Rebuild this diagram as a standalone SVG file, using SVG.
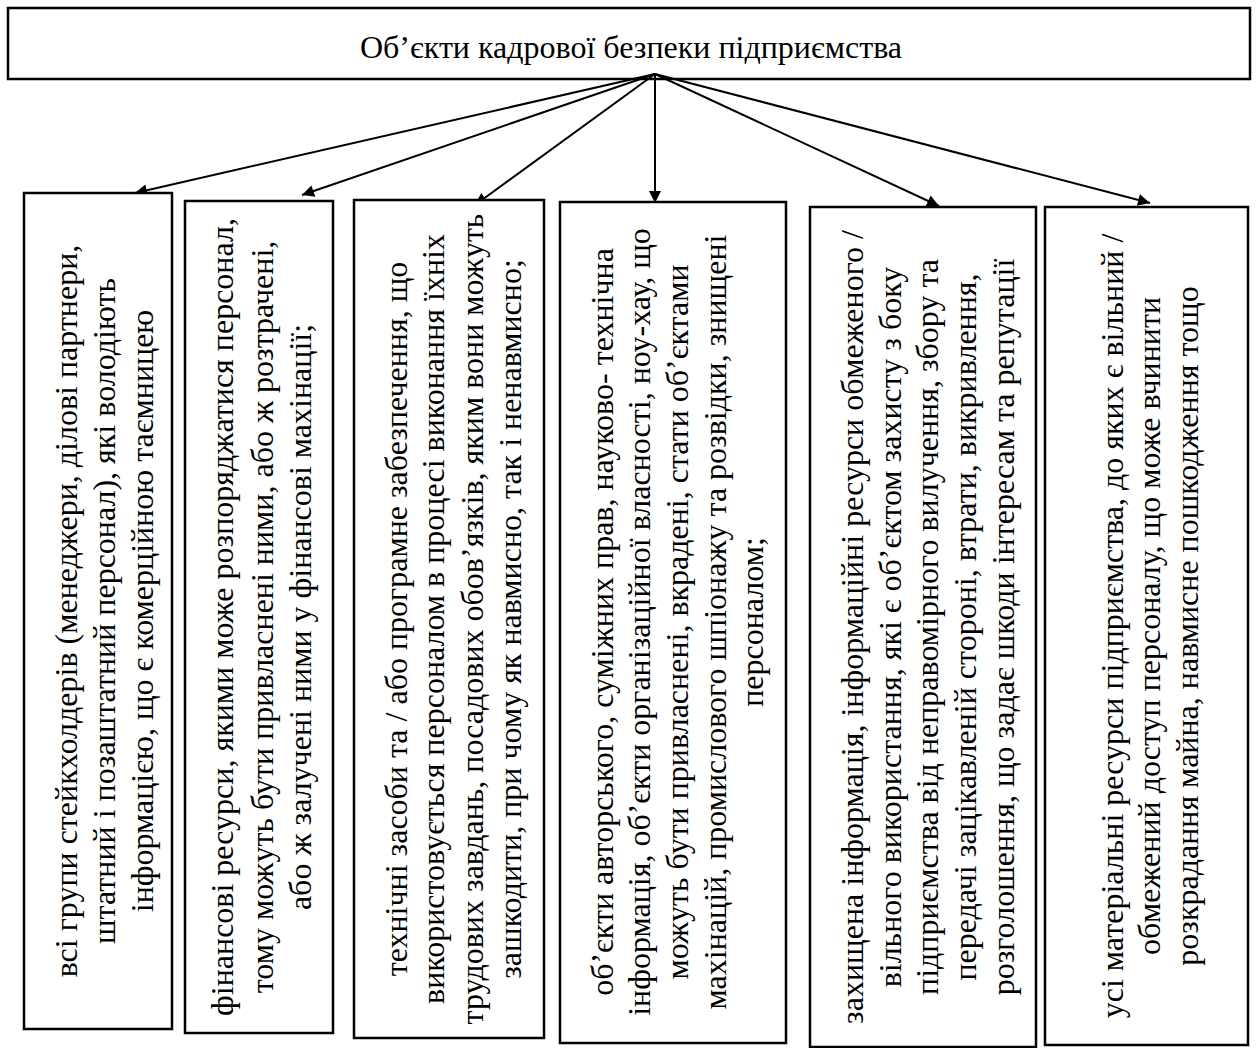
<svg xmlns="http://www.w3.org/2000/svg" width="1256" height="1048" viewBox="0 0 1256 1048">
<style>
.box{fill:#fff;stroke:#000;stroke-width:2.5}
.t{font-family:"Liberation Serif","Times New Roman",serif;font-size:32px;fill:#000;text-anchor:middle}
.title{font-family:"Liberation Serif","Times New Roman",serif;font-size:32px;fill:#000;text-anchor:middle}
.arr{stroke:#000;stroke-width:2;fill:none;marker-end:url(#ah)}
</style>
<defs>
<marker id="ah" viewBox="0 0 10 10" refX="10" refY="5" markerWidth="8" markerHeight="6" markerUnits="strokeWidth" orient="auto">
<path d="M0,0 L10,5 L0,10 z" fill="#000"/>
</marker>
</defs>
<rect width="1256" height="1048" fill="#fff"/>
<g id="top">
<rect class="box" x="8" y="8" width="1242" height="71"/>
<text class="title" x="631" y="58">Об’єкти кадрової безпеки підприємства</text>
</g>
<g id="connectors">
<line class="arr" x1="655" y1="74" x2="135" y2="193"/>
<line class="arr" x1="655" y1="74" x2="302" y2="195"/>
<line class="arr" x1="655" y1="74" x2="475" y2="205"/>
<line class="arr" x1="655" y1="74" x2="655" y2="203"/>
<line class="arr" x1="655" y1="74" x2="939" y2="206"/>
<line class="arr" x1="655" y1="74" x2="1150" y2="203"/>
</g>
<g id="n1">
<rect class="box" x="24" y="193" width="148" height="836"/>
<text class="t" transform="translate(77,611) rotate(-90)">всі групи стейкхолдерів (менеджери, ділові партнери,</text>
<text class="t" transform="translate(115,611) rotate(-90)">штатний і позаштатний персонал), які володіють</text>
<text class="t" transform="translate(153,611) rotate(-90)">інформацією, що є комерційною таємницею</text>
</g>
<g id="n2">
<rect class="box" x="185" y="201" width="148" height="832"/>
<text class="t" transform="translate(233,617) rotate(-90)">фінансові ресурси, якими може розпоряджатися персонал,</text>
<text class="t" transform="translate(273,617) rotate(-90)">тому можуть бути привласнені ними, або ж розтрачені,</text>
<text class="t" transform="translate(311,617) rotate(-90)">або ж залучені ними у фінансові махінації;</text>
</g>
<g id="n3">
<rect class="box" x="354" y="200" width="190" height="838"/>
<text class="t" transform="translate(407,619) rotate(-90)">технічні засоби та / або програмне забезпечення, що</text>
<text class="t" transform="translate(444,619) rotate(-90)">використовується персоналом в процесі виконання їхніх</text>
<text class="t" transform="translate(483,619) rotate(-90)">трудових завдань, посадових обов’язків, яким вони можуть</text>
<text class="t" transform="translate(521,619) rotate(-90)">зашкодити, при чому як навмисно, так і ненавмисно;</text>
</g>
<g id="n4">
<rect class="box" x="560" y="202" width="226" height="841"/>
<text class="t" transform="translate(613,622) rotate(-90)">об’єкти авторського, суміжних прав, науково- технічна</text>
<text class="t" transform="translate(650,622) rotate(-90)">інформація, об’єкти організаційної власності, ноу-хау, що</text>
<text class="t" transform="translate(688,622) rotate(-90)">можуть бути привласнені, вкрадені, стати об’єктами</text>
<text class="t" transform="translate(726,622) rotate(-90)">махінацій, промислового шпіонажу та розвідки, знищені</text>
<text class="t" transform="translate(763,622) rotate(-90)">персоналом;</text>
</g>
<g id="n5">
<rect class="box" x="810" y="207" width="226" height="840"/>
<text class="t" transform="translate(863,627) rotate(-90)">захищена інформація, інформаційні ресурси обмеженого /</text>
<text class="t" transform="translate(901,627) rotate(-90)">вільного використання, які є об’єктом захисту з боку</text>
<text class="t" transform="translate(938,627) rotate(-90)">підприємства від неправомірного вилучення, збору та</text>
<text class="t" transform="translate(976,627) rotate(-90)">передачі зацікавленій стороні, втрати, викривлення,</text>
<text class="t" transform="translate(1014,627) rotate(-90)">розголошення, що задає шкоди інтересам та репутації</text>
</g>
<g id="n6">
<rect class="box" x="1045" y="207" width="203" height="838"/>
<text class="t" transform="translate(1123,626) rotate(-90)">усі матеріальні ресурси підприємства, до яких є вільний /</text>
<text class="t" transform="translate(1160,626) rotate(-90)">обмежений доступ персоналу, що може вчинити</text>
<text class="t" transform="translate(1198,626) rotate(-90)">розкрадання майна, навмисне пошкодження тощо</text>
</g>
</svg>
